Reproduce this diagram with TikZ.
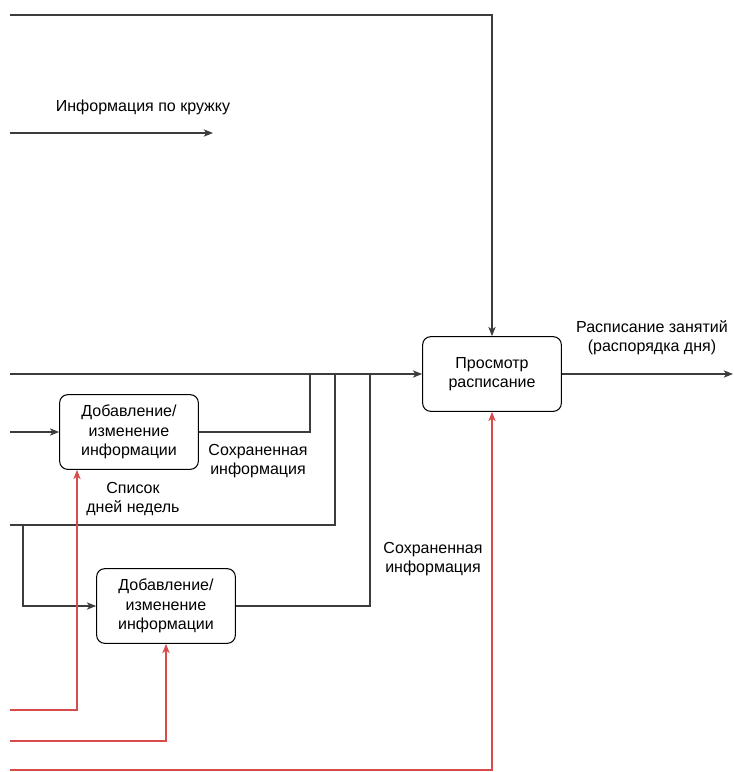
\documentclass[tikz,border=0pt]{standalone}
\usepackage{fontspec}
\setmainfont{Liberation Sans}
\usetikzlibrary{arrows.meta}

\definecolor{linegray}{RGB}{60,60,60}
\definecolor{ctrlred}{RGB}{215,75,75}

\begin{document}
\begin{tikzpicture}[->,>={Stealth[length=7pt,width=5.5pt,inset=2pt]},
                    x=0.75pt,y=-0.75pt,line width=0.8pt,color=linegray]
\tikzstyle{func}=[draw=black,rounded corners=6pt,minimum width=104pt,
                  minimum height=56pt,align=center,text=black]
\tikzstyle{lbl}=[align=center,inner sep=1pt,text=black]
\tikzstyle{mech}=[draw=ctrlred]
\tikzset{font=\fontsize{12pt}{14.5pt}\selectfont}

  \useasboundingbox (0,0) rectangle (733,772);

        \node[func]   (view)    at (492,374)    {Просмотр\\расписание};
        \node[func]   (edit1)   at (129,432)    {Добавление/\\изменение\\информации};
        \node[func]   (edit2)   at (166,606)    {Добавление/\\изменение\\информации};

        \node[lbl]    (infolbl) at (143,107)    {Информация по кружку};
        \node[lbl]    (outlbl)  at (652,338)    {Расписание занятий\\(распорядка дня)};
        \node[lbl]    (saved1)  at (258,461)    {Сохраненная\\информация};
        \node[lbl]    (days)    at (133,499)    {Список\\дней недель};
        \node[lbl]    (saved2)  at (433,559)    {Сохраненная\\информация};

        % free ends and junctions
        \coordinate (ctrl)    at (10,15);
        \coordinate (info)    at (10,133);
        \coordinate (infoend) at (213,133);
        \coordinate (inmain)  at (10,374);
        \coordinate (inedit)  at (10,432);
        \coordinate (indays)  at (10,525);
        \coordinate (split)   at (23,525);
        \coordinate (j1)      at (310,374);
        \coordinate (j2)      at (335,374);
        \coordinate (j3)      at (370,374);
        \coordinate (out)     at (733,374);
        \coordinate (mech1)   at (10,710);
        \coordinate (mech2)   at (10,741);
        \coordinate (mech3)   at (10,770);

        \draw (ctrl) -| (view);
        \draw (info) -- (infoend);
        \draw (inmain) -- (view);
        \draw (inedit) -- (edit1);
        \draw[-] (edit1) -| (j1);
        \draw[-] (indays) -| (j2);
        \draw (split) |- (edit2);
        \draw[-] (edit2) -| (j3);
        \draw (view) -- (out);
        \draw[mech] (mech1) -| ([xshift=-39pt]edit1.south);
        \draw[mech] (mech2) -| (edit2);
        \draw[mech] (mech3) -| (view);
\end{tikzpicture}
\end{document}
